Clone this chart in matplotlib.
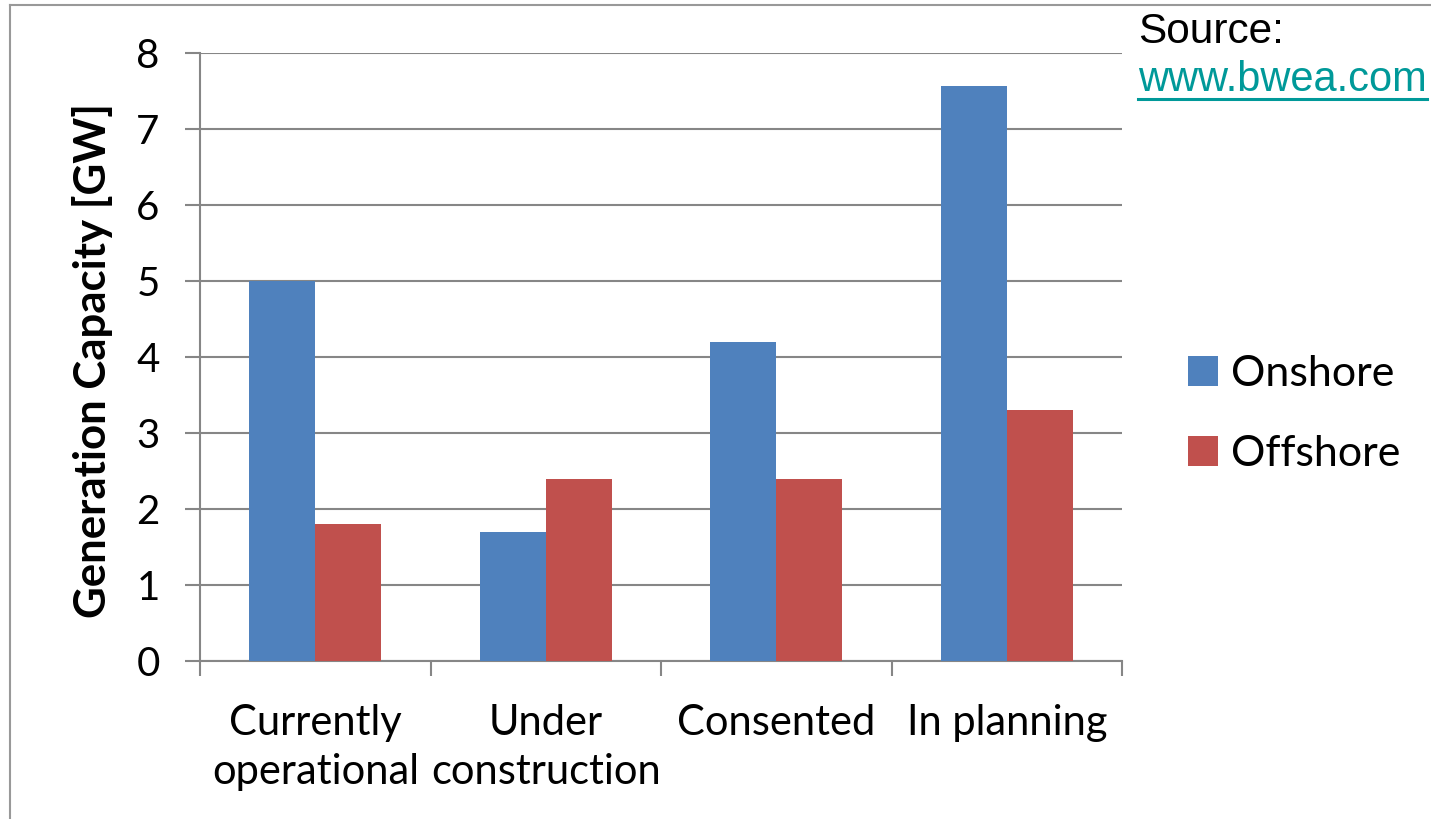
import matplotlib
matplotlib.use('Agg')
from matplotlib import pyplot as plt
from matplotlib.lines import Line2D
import numpy as np

categories = ['Currently\noperational', 'Under\nconstruction', 'Consented', 'In planning']
onshore = [5.0, 1.7, 4.2, 7.57]
offshore = [1.8, 2.4, 2.4, 3.3]
series_names = ['Onshore', 'Offshore']
colors = ['#4F81BD', '#C0504D']
grey = '#868686'

W, H = 1431, 819
fig = plt.figure(figsize=(W / 100, H / 100), dpi=100)
ax = fig.add_axes([200 / W, 1 - 661 / H, 922 / W, 608 / H])

x = np.arange(len(categories))
bw = 1 / 3.5
b1 = ax.bar(x - bw / 2, onshore, bw, color=colors[0], label=series_names[0], zorder=3)
b2 = ax.bar(x + bw / 2, offshore, bw, color=colors[1], label=series_names[1], zorder=3)

ax.set_xlim(-0.5, len(categories) - 0.5)
ax.set_ylim(0, 8)
ax.set_yticks(range(0, 9))
ax.yaxis.grid(True, color=grey, lw=1.5, zorder=0)
ax.set_axisbelow(True)

for s in ['top', 'right']:
    ax.spines[s].set_visible(False)
for s in ['left', 'bottom']:
    ax.spines[s].set_color(grey)
    ax.spines[s].set_linewidth(1.5)

# category boundaries as major ticks, labels on minor ticks
ax.set_xticks(np.arange(-0.5, len(categories), 1))
ax.set_xticklabels([])
ax.set_xticks(x, minor=True)
ax.set_xticklabels(categories, minor=True, family='Lato', fontsize=30, linespacing=1.35)
ax.tick_params(axis='x', which='major', direction='out', length=11, width=1.5, color=grey)
ax.tick_params(axis='x', which='minor', length=0, pad=31)
ax.tick_params(axis='y', direction='out', length=11, width=1.5, color=grey, pad=18)
for t in ax.get_yticklabels():
    t.set_family('Lato')
    t.set_fontsize(29)

fig.text(93 / W, 1 - 360 / H, 'Generation Capacity [GW]', rotation=90, ha='center', va='center',
         family='Lato', fontweight='bold', fontsize=31.5)

leg = ax.legend(loc='center left', bbox_to_anchor=(1188 / W, 1 - 414 / H),
                bbox_transform=fig.transFigure, frameon=False, prop={'family': 'Lato', 'size': 31},
                handlelength=0.7, handleheight=0.7, handletextpad=0.3, labelspacing=0.98,
                borderpad=0, borderaxespad=0)

fig.text(1138 / W, 1 - 43 / H, 'Source:', family='Liberation Sans', fontsize=30.5, color='black',
         ha='left', va='baseline')
link = fig.text(1138 / W, 1 - 91 / H, 'www.bwea.com', family='Liberation Sans', fontsize=30,
                color='#009999', ha='left', va='baseline')

# outer frame
fig.add_artist(Line2D([10 / W, 10 / W], [0, 1 - 5 / H], color='#999999', lw=1.5))
fig.add_artist(Line2D([10 / W, 1], [1 - 5 / H, 1 - 5 / H], color='#999999', lw=1.5))

fig.canvas.draw()
bb = link.get_window_extent(fig.canvas.get_renderer())
uy = (1 - 99 / H)
fig.add_artist(Line2D([bb.x0 / W, bb.x1 / W], [uy, uy], color='#009999', lw=2.2))

fig.savefig('out.png', dpi=100)
